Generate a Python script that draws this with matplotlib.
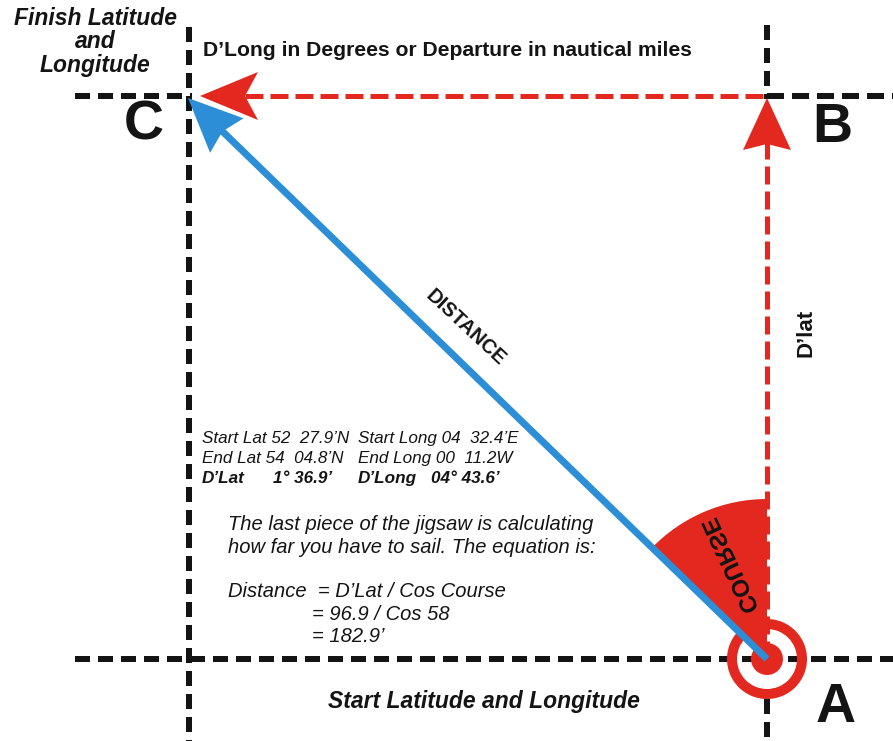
import numpy as np
import matplotlib
matplotlib.use("Agg")
import matplotlib.pyplot as plt
from matplotlib.patches import Polygon, Wedge, Circle, PathPatch
from matplotlib.textpath import TextPath
from matplotlib.font_manager import FontProperties
from matplotlib.transforms import Affine2D

plt.rcParams['font.family'] = ['Liberation Sans', 'DejaVu Sans']

W, H = 893, 741
# Key points of the diagram (pixel coordinates, y grows downward)
point_A = (767, 659)
point_B = (767, 96)
point_C = (189, 96)
blue_tip = (188, 98)
wedge_radius = 160

title_finish = ["Finish Latitude", "and", "Longitude"]
top_label = "D\u2019Long in Degrees or Departure in nautical miles"
bottom_label = "Start Latitude and Longitude"
info_rows = [
    ("Start Lat 52  27.9\u2019N", "", "Start Long 04  32.4\u2019E", ""),
    ("End Lat 54  04.8\u2019N", "", "End Long 00  11.2W", ""),
    ("D\u2019Lat", "1\u00b0 36.9\u2019", "D\u2019Long", "04\u00b0 43.6\u2019"),
]
para_lines = ["The last piece of the jigsaw is calculating",
              "how far you have to sail. The equation is:"]
eq_lines = ["Distance  = D\u2019Lat / Cos Course", "= 96.9 / Cos 58", "= 182.9\u2019"]

RED = "#E2281F"
BLUE = "#2C8ED6"
BLACK = "#141414"

fig = plt.figure(figsize=(W / 100, H / 100), dpi=100)
ax = fig.add_axes([0, 0, 1, 1])
ax.set_xlim(0, W)
ax.set_ylim(H, 0)
ax.set_aspect('equal')
ax.axis('off')

PX = 0.72  # points per pixel


def dashed(p0, p1, color, lw_px, dash_px, gap_px, z=2):
    lw = lw_px * PX
    ax.plot([p0[0], p1[0]], [p0[1], p1[1]], color=color, lw=lw,
            linestyle=(0, (dash_px / lw_px, gap_px / lw_px)),
            solid_capstyle='butt', dash_capstyle='butt', zorder=z)


def arrow_head(tip, direction, length, half_w, notch, color, z=5):
    d = np.array(direction, float)
    d /= np.linalg.norm(d)
    n = np.array([-d[1], d[0]])
    t = np.array(tip, float)
    back = t - d * length
    pts = [t, back + n * half_w, t - d * (length - notch), back - n * half_w]
    ax.add_patch(Polygon(pts, closed=True, color=color, lw=0, zorder=z))


def mirrored_text(txt, center, size_px, read_deg, top_deg, color, z=7):
    prop = FontProperties(family='Liberation Sans', weight='bold')
    tp = TextPath((0, 0), txt, size=size_px, prop=prop)
    bb = tp.get_extents()
    cx0 = (bb.x0 + bb.x1) / 2
    cy0 = (bb.y0 + bb.y1) / 2
    r = np.array([np.cos(np.radians(read_deg)), -np.sin(np.radians(read_deg))])
    t = np.array([np.cos(np.radians(top_deg)), -np.sin(np.radians(top_deg))])
    m = np.array([[r[0], t[0], 0], [r[1], t[1], 0], [0, 0, 1.0]])
    tr = Affine2D().translate(-cx0, -cy0) + Affine2D(m) + Affine2D().translate(*center)
    path = tr.transform_path(tp)
    ax.add_patch(PathPatch(path, color=color, lw=0, zorder=z))


Ax, Ay = point_A
Bx, By = point_B
Cx, Cy = point_C

# course wedge
dir_blue = np.array(blue_tip) - np.array(point_A)
theta_blue = np.degrees(np.arctan2(dir_blue[1], dir_blue[0])) % 360
ax.add_patch(Wedge(point_A, wedge_radius, theta_blue, 270, color=RED, lw=0, zorder=1))

# black dashed grid lines
dashed((Cx, 27), (Cx, H), BLACK, 6, 15, 8)
dashed((75, Cy), (Cx + 3, Cy), BLACK, 6, 15, 8)
dashed((Bx, By), (W, By), BLACK, 6, 17, 8)
dashed((Bx, 25), (Bx, By + 3), BLACK, 6, 15, 8)
dashed((75, Ay), (W, Ay), BLACK, 6, 15, 8)
dashed((Bx, Ay + 40), (Bx, H), BLACK, 6, 15, 8)

# red dashed legs
dashed((Bx - 4, By), (245, By), RED, 5, 18, 7, z=3)
dashed((Ax, Ay), (Bx, 140), RED, 5, 18, 7, z=3)
arrow_head((Cx + 11, Cy), (-1, 0), 58, 24, 13, RED)
arrow_head((Bx, By + 2), (0, -1), 52, 24, 6, RED)

# target at A
ax.add_patch(Wedge(point_A, 40, 0, 360, width=10, color=RED, lw=0, zorder=4))
ax.add_patch(Circle(point_A, 16, color=RED, lw=0, zorder=4))

# blue distance line
d = dir_blue / np.linalg.norm(dir_blue)
line_end = np.array(blue_tip) - d * 40
ax.plot([Ax, line_end[0]], [Ay, line_end[1]], color=BLUE, lw=7 * PX,
        solid_capstyle='butt', zorder=6)
arrow_head(blue_tip, d, 54, 24, 6, BLUE, z=6)

# texts
fi = dict(fontweight='bold', fontstyle='italic', color=BLACK)
for txt, y in zip(title_finish, [25, 48, 72]):
    ax.text(95, y, txt, fontsize=16.5, ha='center', va='baseline', **fi)
ax.text(203, 56.5, top_label, fontsize=15.2, fontweight='bold', color=BLACK,
        ha='left', va='baseline')
ax.text(484, 708, bottom_label, fontsize=16.5, ha='center', va='baseline', **fi)
for lab, (x, y) in zip(["C", "B", "A"], [(144, 125), (832, 128), (836, 708)]):
    ax.text(x, y, lab, fontsize=40, fontweight='bold', color=BLACK,
            ha='center', va='center')

ax.text(466, 328, "DISTANCE", fontsize=14.5, fontweight='bold', color=BLACK,
        rotation=-43, ha='center', va='center', rotation_mode='anchor')
ax.text(806, 333, "D\u2019lat", fontsize=16, fontweight='bold', color=BLACK,
        rotation=90, ha='center', va='center')
mirrored_text("COURSE", (730, 566), 24, 115, 25, BLACK)

col_x = [202, 273, 358, 431]
for i, row in enumerate(info_rows):
    y = 443 + i * 20
    bold = (i == 2)
    for x, txt in zip(col_x, row):
        if txt:
            ax.text(x, y, txt, fontsize=12.3, fontstyle='italic',
                    fontweight='bold' if bold else 'normal', color=BLACK,
                    ha='left', va='baseline')

for i, txt in enumerate(para_lines):
    ax.text(228, 530 + i * 23, txt, fontsize=14.5, fontstyle='italic',
            color=BLACK, ha='left', va='baseline')
ax.text(228, 597, eq_lines[0], fontsize=14.5, fontstyle='italic', color=BLACK,
        ha='left', va='baseline')
for i, txt in enumerate(eq_lines[1:]):
    ax.text(312, 620 + i * 22, txt, fontsize=14.5, fontstyle='italic',
            color=BLACK, ha='left', va='baseline')

fig.savefig("out.png", dpi=100)
